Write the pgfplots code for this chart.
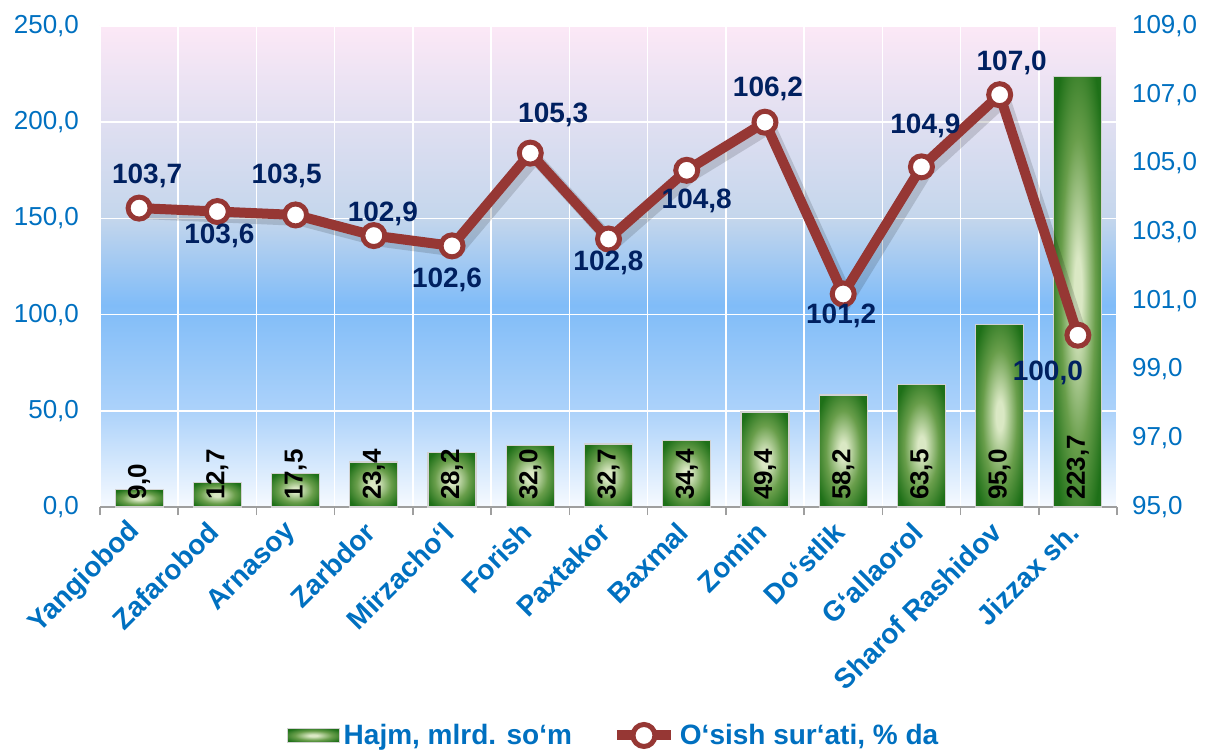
\documentclass[border=0pt]{standalone}
\usepackage{fontspec}
\setmainfont{Liberation Sans}
\usepackage{pgfplots}
\pgfplotsset{compat=1.18}
\usepackage{pgfplotstable}

\definecolor{tickblue}{RGB}{0,112,192}
\definecolor{navy}{RGB}{0,32,96}
\definecolor{linered}{RGB}{150,55,52}
\definecolor{bardark}{RGB}{30,112,24}
\definecolor{barmid}{RGB}{105,158,75}
\definecolor{barlight}{RGB}{218,232,196}
\definecolor{bgwhite}{RGB}{246,250,255}
\definecolor{bgblueA}{RGB}{172,210,250}
\definecolor{bgblueB}{RGB}{128,188,248}
\definecolor{bggray}{RGB}{196,214,236}
\definecolor{bgpink}{RGB}{252,232,246}

\pgfdeclareverticalshading{plotbg}{100bp}{
  color(0bp)=(bgwhite); color(25bp)=(bgwhite); color(35bp)=(bgblueA);
  color(46bp)=(bgblueB); color(55bp)=(bggray); color(75bp)=(bgpink); color(100bp)=(bgpink)}
\pgfdeclareradialshading{barglow}{\pgfpoint{0bp}{0bp}}{
  color(0bp)=(barlight); color(4bp)=(barlight); color(18bp)=(barmid); color(31bp)=(bardark); color(50bp)=(bardark)}

\tikzset{
  numfmt/.style={/pgf/number format/fixed, /pgf/number format/fixed zerofill, /pgf/number format/precision=1, /pgf/number format/use comma, /pgf/number format/assume math mode=true},
}
\pgfplotsset{
  mylegline/.style={legend image code/.code={\draw[mark repeat=2, mark phase=2, ##1] plot coordinates {(0pt,0pt) (13.5pt,0pt) (27pt,0pt)};}},
  mylegbar/.style={legend image code/.code={\draw[draw=gray!35, shading=barglow] (0pt,-3.3pt) rectangle (26pt,3.3pt);}},
}

\pgfplotstableread{
x v
0 9.0
1 12.7
2 17.5
3 23.4
4 28.2
5 32.0
6 32.7
7 34.4
8 49.4
9 58.2
10 63.5
11 95.0
12 223.7
}\bars

\pgfplotstableread{
x y dx dy
0 103.7 4 16
1 103.6 1 -12
2 103.5 -4.5 19.5
3 102.9 4.5 11
4 102.6 -2.5 -17
5 105.3 11.5 19
6 102.8 0 -12
7 104.8 5 -15.5
8 106.2 1.5 16.5
9 101.2 -1 -11
10 104.9 2 20.5
11 107.0 6 16
12 100.0 -15 -19
}\growth

\begin{document}
\begin{tikzpicture}
\path[use as bounding box] (-50pt,-121pt) rectangle (554.5pt,253.5pt);
\begin{axis}[
  at={(0,0)}, anchor=south west,
  scale only axis, width=508.5pt, height=240.5pt,
  xmin=-0.5, xmax=12.5, ymin=0, ymax=250,
  axis x line*=bottom, axis y line*=left,
  y axis line style={draw=none},
  x axis line style={draw=gray!75, line width=0.8pt},
  axis background/.style={shading=plotbg},
  xtick={0,...,12},
  xticklabels={Yangiobod,Zafarobod,Arnasoy,Zarbdor,Mirzacho‘l,Forish,Paxtakor,Baxmal,Zomin,Do‘stlik,G‘allaorol,Sharof Rashidov,Jizzax sh.},
  minor xtick={-0.5,0.5,...,12.5},
  ytick={0,50,...,250},
  tick align=outside,
  major tick length=0pt,
  minor tick length=4pt,
  minor tick style={draw=gray!75, line width=0.8pt},
  xminorgrids=true, ymajorgrids=true,
  minor grid style={white, line width=0.8pt},
  major grid style={white, line width=0.8pt},
  xticklabel style={rotate=45, anchor=east, font=\bfseries\fontsize{14}{14}\selectfont, text=tickblue, xshift=-5pt, yshift=-6pt},
  yticklabel style={font=\fontsize{13}{13}\selectfont, text=tickblue, xshift=-7pt, numfmt},
  scaled y ticks=false,
]
\pgfplotsinvokeforeach{0,...,12}{
\addplot[ybar, bar width=24pt, draw=gray!35, line width=0.6pt,
  shading=barglow, restrict x to domain=#1:#1]
  table[x=x, y=v] {\bars};
}
\addplot[draw=none, nodes near coords, point meta=explicit,
  nodes near coords style={rotate=90, anchor=west, font=\bfseries\fontsize{13}{13}\selectfont, text=black, numfmt}]
  table[x=x, y expr=0, meta=v] {\bars};
\end{axis}
\begin{axis}[
  at={(0,0)}, anchor=south west,
  scale only axis, width=508.5pt, height=240.5pt,
  xmin=-0.5, xmax=12.5, ymin=95, ymax=109,
  axis x line=none, axis y line*=right,
  y axis line style={draw=none},
  ytick={95,97,...,109},
  major tick length=0pt,
  yticklabel style={font=\fontsize{13}{13}\selectfont, text=tickblue, xshift=4pt, numfmt},
  clip=false,
  legend style={at={(0.506,-0.475)}, anchor=center, draw=none, fill=none, legend columns=2,
    font=\bfseries\fontsize{14}{14}\selectfont, text=tickblue,
    /tikz/every even column/.append style={column sep=18pt}},
]
\addlegendimage{mylegbar}
\addlegendentry{Hajm, mlrd. so‘m}
\addplot[black, opacity=0.14, line width=6pt, forget plot, xshift=2.5pt, yshift=-2.5pt]
  table[x=x, y=y] {\growth};
\addplot[color=linered, line width=5pt, mark=*, mark size=5.5pt,
  mark options={fill=white, draw=linered, line width=2.5pt},
  mylegline,
  nodes near coords, point meta=explicit,
  visualization depends on={\thisrow{dx} \as \dx},
  visualization depends on={\thisrow{dy} \as \dy},
  nodes near coords style={anchor=center, xshift=\dx pt, yshift=\dy pt, font=\bfseries\fontsize{14}{14}\selectfont, text=navy, numfmt}]
  table[x=x, y=y, meta=y] {\growth};
\addlegendentry{O‘sish sur‘ati, \% da}
\end{axis}
\end{tikzpicture}
\end{document}
